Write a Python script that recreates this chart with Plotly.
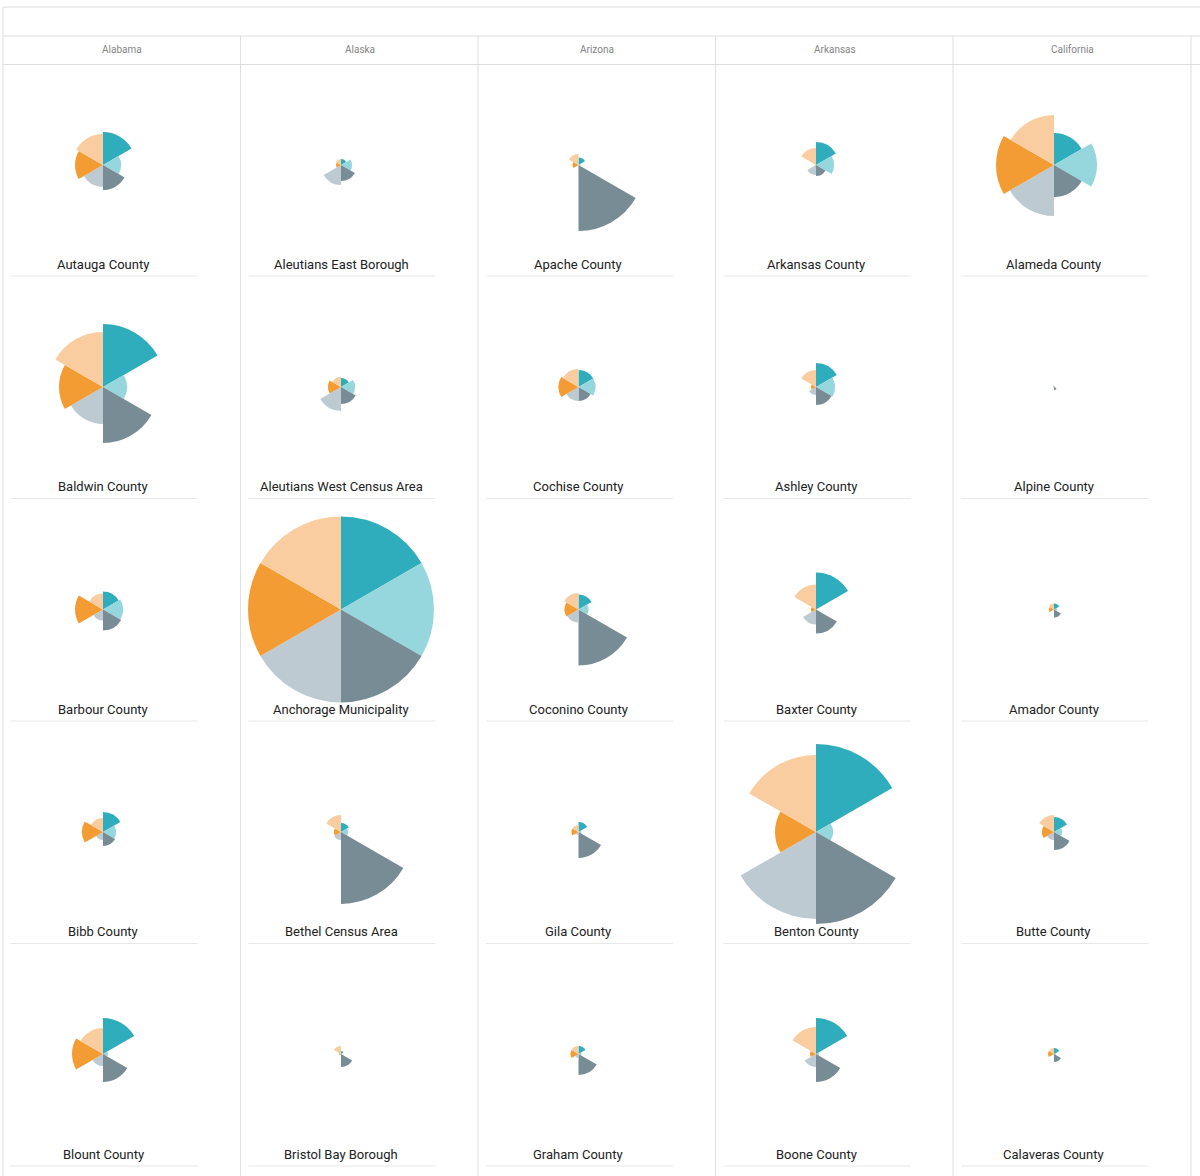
import plotly.graph_objects as go

W, H = 1200, 1176

states = ["Alabama", "Alaska", "Arizona", "Arkansas", "California"]
counties = [
    ["Autauga County", "Baldwin County", "Barbour County", "Bibb County", "Blount County"],
    ["Aleutians East Borough", "Aleutians West Census Area", "Anchorage Municipality", "Bethel Census Area", "Bristol Bay Borough"],
    ["Apache County", "Cochise County", "Coconino County", "Gila County", "Graham County"],
    ["Arkansas County", "Ashley County", "Baxter County", "Benton County", "Boone County"],
    ["Alameda County", "Alpine County", "Amador County", "Butte County", "Calaveras County"],
]
segments = ["S1", "S2", "S3", "S4", "S5", "S6"]

# one list per state; each county row gives the six segment values, clockwise from 12 o'clock
alabama = [
    [33, 18, 25, 22, 28, 31],
    [63, 24, 56, 37, 44, 55],
    [18, 20, 21, 11, 28, 16],
    [20, 13, 14, 8, 21, 14],
    [36, 5, 28, 12, 31, 26],
]
alaska = [
    [6, 11, 16, 20, 5, 6],
    [9, 14, 17, 24, 13, 10],
    [93, 93, 93, 93, 93, 93],
    [9, 7, 72, 8, 7, 17],
    [3, 1, 13, 1, 2, 8],
]
arizona = [
    [7.5, 2, 66, 1, 6, 11],
    [17, 17, 14, 14, 20, 18],
    [15, 10, 56, 13, 14, 16.5],
    [10, 3, 26, 3, 7, 7],
    [8, 3, 21, 4, 8, 8],
]
arkansas = [
    [23, 18, 11, 10, 1, 17],
    [24, 19, 18, 8, 5, 17],
    [37, 1, 24, 15, 5, 25],
    [88, 17, 92, 87, 41, 77],
    [36, 3, 28, 13, 6, 27],
]
california = [
    [32, 43, 32, 51, 58, 50],
    [1, 1.5, 3, 1, 0.5, 1.5],
    [6, 3, 8, 1, 5, 6],
    [15, 8, 18, 8, 12, 17],
    [6, 2, 8, 1, 6, 6],
]
values = [alabama, alaska, arizona, arkansas, california]
colors = ["#2FADBD", "#96D6DD", "#788C96", "#BECAD1", "#F39C34", "#F9CDA0"]

col_x = [103, 341, 578.5, 816, 1054]
row_y = [165, 387, 609.5, 832, 1054]
label_x = [103, 341, 578, 816, 1053.5]
label_y = [264, 486.5, 709, 931.5, 1154]
rule_y = [276, 498.5, 721, 943.5, 1166]
header_x = [122, 359.5, 597, 834.5, 1072]
v_lines = [3, 240.5, 478, 715.5, 953, 1191]
half = 100
GRID = "#DEDEDE"


def px(x):
    return x / W


def py(y):
    return 1 - y / H


fig = go.Figure()
layout = {}
annotations = []
shapes = []


def line(x0, y0, x1, y1, color=GRID):
    shapes.append(dict(type="line", xref="paper", yref="paper", x0=px(x0), x1=px(x1),
                       y0=py(y0), y1=py(y1), line=dict(color=color, width=1)))


n = 0
for c, state in enumerate(states):
    annotations.append(dict(text=state, x=px(header_x[c]), y=py(49.5), xref="paper", yref="paper",
                            showarrow=False, xanchor="center", yanchor="middle",
                            font=dict(family="Roboto", size=10, color="#858585")))
    for r, county in enumerate(counties[c]):
        n += 1
        key = "polar" if n == 1 else f"polar{n}"
        fig.add_trace(go.Barpolar(r=values[c][r], theta=segments, subplot=key,
                                  marker=dict(color=colors, line=dict(width=0)),
                                  name=county, showlegend=False))
        layout[key] = dict(
            domain=dict(x=[px(col_x[c] - half), px(col_x[c] + half)],
                        y=[py(row_y[r] + half), py(row_y[r] - half)]),
            bgcolor="rgba(0,0,0,0)",
            bargap=0,
            radialaxis=dict(visible=False, range=[0, half]),
            angularaxis=dict(visible=False, direction="clockwise", rotation=60,
                             type="category", categoryorder="array", categoryarray=segments),
        )
        annotations.append(dict(text=county, x=px(label_x[c]), y=py(label_y[r]), xref="paper", yref="paper",
                                showarrow=False, xanchor="center", yanchor="middle",
                                font=dict(family="Roboto", size=13, color="#222222")))
        line(col_x[c] - 92.5, rule_y[r], col_x[c] + 94.5, rule_y[r], "#E8E8E8")

line(3, 7, W, 7)
line(3, 36, W, 36)
line(3, 64.5, W, 64.5)
line(v_lines[0], 7, v_lines[0], H)
for x in v_lines[1:]:
    line(x, 36, x, H)

fig.update_layout(width=W, height=H, margin=dict(l=0, r=0, t=0, b=0),
                  paper_bgcolor="white", plot_bgcolor="white",
                  shapes=shapes, annotations=annotations, **layout)
fig.write_html("out.html", config={"displayModeBar": False},
               post_script="document.body.style.margin='0';")
